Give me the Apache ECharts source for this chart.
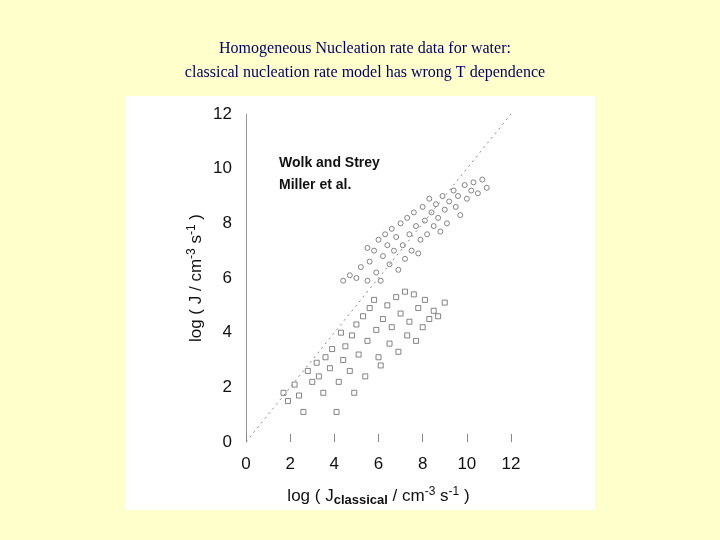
<!DOCTYPE html>
<html>
<head>
<meta charset="UTF-8">
<title>Homogeneous Nucleation</title>
<script src="https://cdn.jsdelivr.net/npm/echarts@6/dist/echarts.min.js"></script>
<style>
  html, body { margin: 0; padding: 0; background: #ffffcc; }
  #main { width: 720px; height: 540px; }
</style>
</head>
<body>
<div id="main"></div>
<script>
// Wolk and Strey (upper cluster), [log Jclassical, log J]
var wolkStrey = [
  [4.4, 5.9], [4.7, 6.1], [5.0, 6.0], [5.2, 6.4], [5.5, 5.9], [5.5, 7.1], [5.6, 6.6],
  [5.8, 7.0], [5.9, 6.2], [6.0, 7.4], [6.1, 5.9], [6.2, 6.8], [6.3, 7.6], [6.4, 7.2],
  [6.5, 6.5], [6.6, 7.8], [6.7, 7.0], [6.8, 7.5], [6.9, 6.3], [7.0, 8.0], [7.1, 7.2],
  [7.2, 6.7], [7.3, 8.2], [7.4, 7.6], [7.5, 7.0], [7.6, 8.4], [7.7, 7.9], [7.8, 6.9],
  [7.9, 7.4], [8.0, 8.6], [8.1, 8.1], [8.2, 7.6], [8.3, 8.9], [8.4, 8.4], [8.5, 7.9],
  [8.6, 8.7], [8.7, 8.2], [8.8, 7.7], [8.9, 9.0], [9.0, 8.5], [9.1, 8.0], [9.2, 8.8],
  [9.4, 9.2], [9.5, 8.6], [9.6, 9.0], [9.7, 8.3], [9.9, 9.4], [10.0, 8.9], [10.2, 9.2],
  [10.3, 9.5], [10.5, 9.1], [10.7, 9.6], [10.9, 9.3]
];
// Miller et al. (lower cluster)
var miller = [
  [1.7, 1.8], [1.9, 1.5], [2.2, 2.1], [2.4, 1.7], [2.6, 1.1], [2.8, 2.6], [3.0, 2.2],
  [3.2, 2.9], [3.3, 2.4], [3.5, 1.8], [3.6, 3.1], [3.8, 2.7], [3.9, 3.4], [4.1, 1.1],
  [4.2, 2.2], [4.3, 4.0], [4.4, 3.0], [4.5, 3.5], [4.7, 2.6], [4.8, 3.9], [4.9, 1.8],
  [5.0, 4.3], [5.1, 3.2], [5.3, 4.6], [5.4, 2.4], [5.5, 3.7], [5.6, 4.9], [5.8, 5.2],
  [5.9, 4.1], [6.0, 3.1], [6.1, 2.8], [6.2, 4.5], [6.4, 5.0], [6.5, 3.6], [6.6, 4.2],
  [6.8, 5.3], [6.9, 3.3], [7.0, 4.7], [7.2, 5.5], [7.3, 3.9], [7.4, 4.4], [7.6, 5.4],
  [7.7, 3.7], [7.8, 4.9], [8.0, 4.2], [8.1, 5.2], [8.3, 4.5], [8.5, 4.8], [8.7, 4.6],
  [9.0, 5.1]
];
var xTicks = [0, 2, 4, 6, 8, 10, 12];
var yTicks = [0, 2, 4, 6, 8, 10, 12];
var diagonal = [[0, 0], [12, 12]];

var chart = echarts.init(document.getElementById('main'));
chart.setOption({
  backgroundColor: '#ffffcc',
  title: {
    text: 'Homogeneous Nucleation rate data for water:\nclassical nucleation rate model has wrong T dependence',
    left: 360, top: 32, textAlign: 'center',
    textStyle: { fontFamily: 'Liberation Serif', fontSize: 16, fontWeight: 'normal', color: '#000066', lineHeight: 24 }
  },
  graphic: [
    { type: 'rect', z: -1, shape: { x: 125, y: 96, width: 470, height: 414 }, style: { fill: '#ffffff' } },
    { type: 'text', left: 279, top: 156, style: { text: 'Wolk and Strey', font: 'bold 14px "Liberation Sans"', fill: '#111' } },
    { type: 'text', left: 279, top: 178, style: { text: 'Miller et al.', font: 'bold 14px "Liberation Sans"', fill: '#111' } }
  ],
  grid: { left: 246, right: 209, top: 114, bottom: 98 },
  xAxis: {
    type: 'value', min: 0, max: 12, interval: 2,
    name: '{a|log ( J}{s|classical}{a| / cm}{p|-3}{a| s}{p|-1}{a| )}',
    nameLocation: 'middle', nameGap: 44,
    nameTextStyle: { rich: {
      a: { fontFamily: 'Liberation Sans', fontSize: 17, color: '#111' },
      s: { fontFamily: 'Liberation Sans', fontSize: 13, fontWeight: 'bold', color: '#111', verticalAlign: 'bottom', padding: [8, 0, 0, 0] },
      p: { fontFamily: 'Liberation Sans', fontSize: 12, color: '#111', verticalAlign: 'top', padding: [0, 0, 8, 0] }
    } },
    axisLine: { show: false },
    axisTick: { inside: true, length: 8, lineStyle: { color: '#888' } },
    splitLine: { show: false },
    axisLabel: { margin: 14, fontFamily: 'Liberation Sans', fontSize: 17, color: '#111',
      formatter: function (v) { return xTicks.indexOf(v) >= 0 ? v : ''; } }
  },
  yAxis: {
    type: 'value', min: 0, max: 12, interval: 2,
    name: '{a|log ( J / cm}{p|-3}{a| s}{p|-1}{a| )}',
    nameLocation: 'middle', nameGap: 40, nameRotate: 90,
    nameTextStyle: { rich: {
      a: { fontFamily: 'Liberation Sans', fontSize: 17, color: '#111' },
      p: { fontFamily: 'Liberation Sans', fontSize: 12, color: '#111', verticalAlign: 'top', padding: [0, 0, 8, 0] }
    } },
    axisLine: { show: true, lineStyle: { color: '#999' } },
    axisTick: { show: false },
    splitLine: { show: false },
    axisLabel: { margin: 14, fontFamily: 'Liberation Sans', fontSize: 17, color: '#111',
      formatter: function (v) { return yTicks.indexOf(v) >= 0 ? v : ''; } }
  },
  series: [
    {
      name: 'Wolk and Strey', type: 'scatter', data: wolkStrey,
      symbol: 'circle', symbolSize: 5,
      itemStyle: { color: 'rgba(0,0,0,0)', borderColor: '#666', borderWidth: 1 }
    },
    {
      name: 'Miller et al.', type: 'scatter', data: miller,
      symbol: 'rect', symbolSize: 5,
      itemStyle: { color: 'rgba(0,0,0,0)', borderColor: '#666', borderWidth: 1 }
    },
    {
      type: 'line', data: diagonal, symbol: 'none', silent: true,
      lineStyle: { color: '#888', width: 1, type: [2, 4] }
    }
  ]
});
</script>
</body>
</html>
